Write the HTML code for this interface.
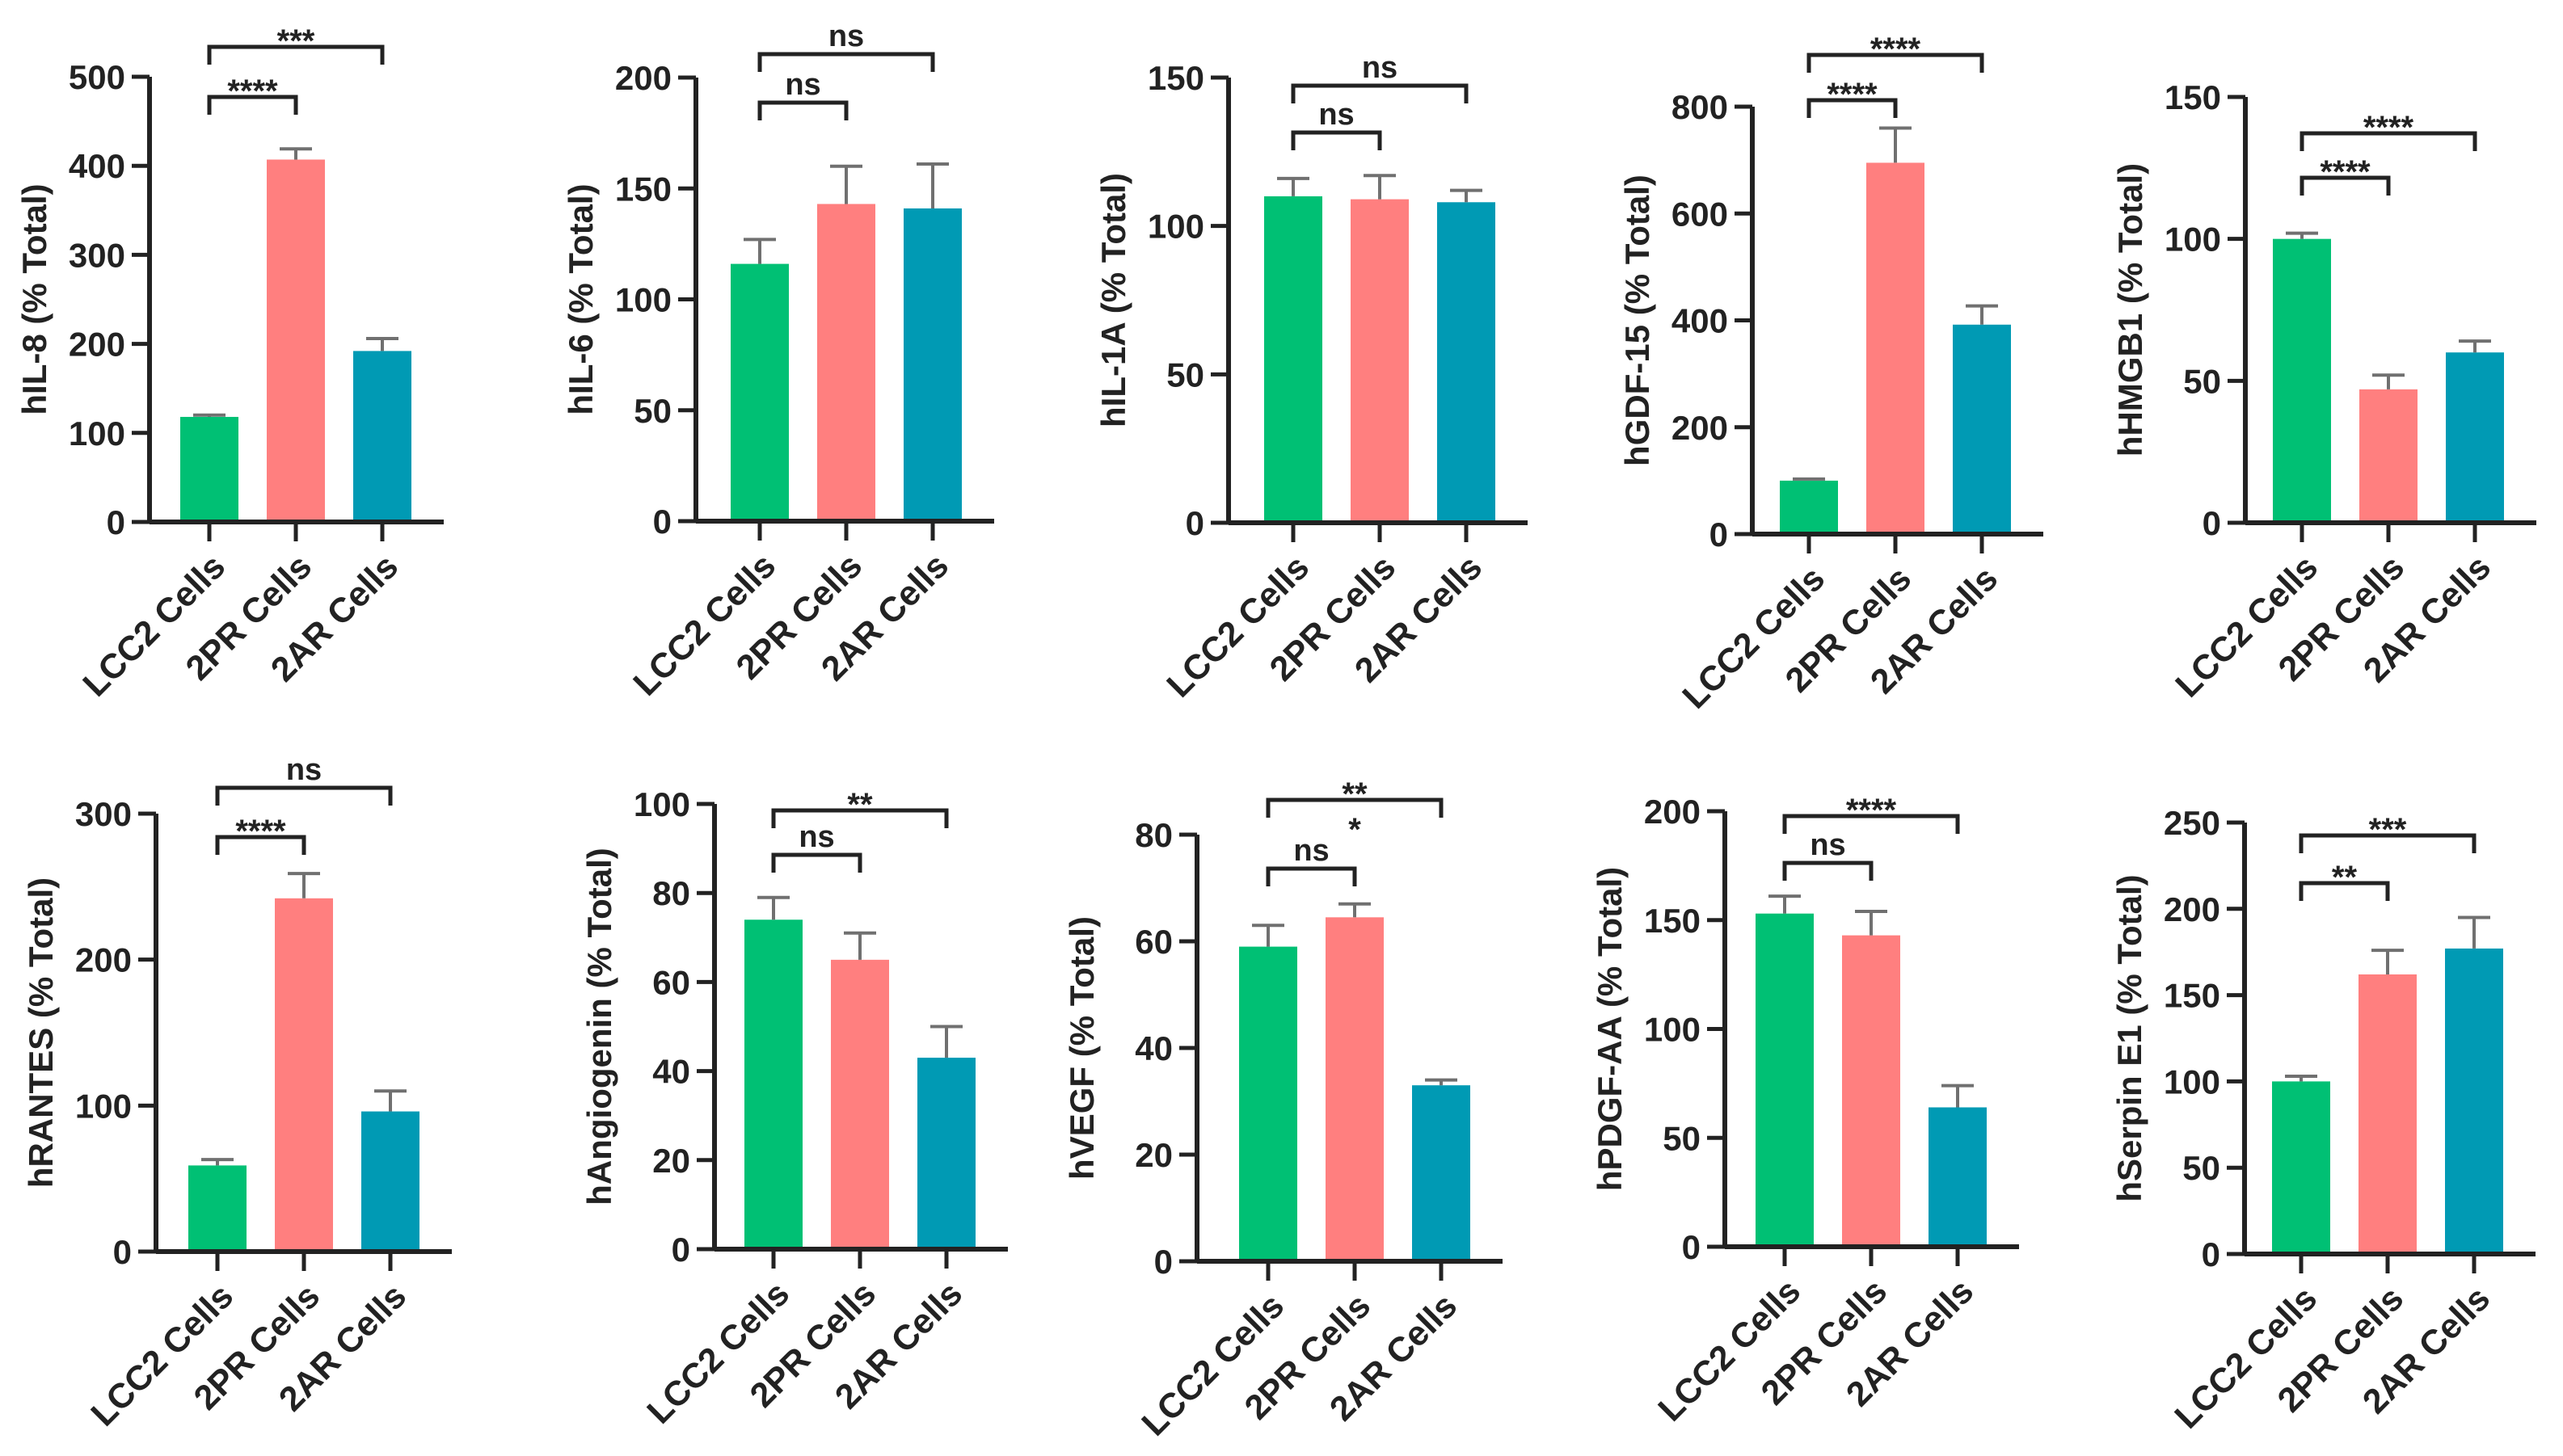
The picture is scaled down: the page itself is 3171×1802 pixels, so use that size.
<!DOCTYPE html>
<html><head><meta charset="utf-8"><style>
html,body{margin:0;padding:0;background:#fff;}
svg{display:block;font-family:"Liberation Sans",Arial,sans-serif;font-weight:bold;}
</style></head><body>
<svg id="fig" width="3171" height="1802" viewBox="0 0 3171 1802"></svg>
<script>
const categories = ["LCC2 Cells","2PR Cells","2AR Cells"];
const titles = ["hIL-8 (% Total)","hIL-6 (% Total)","hIL-1A (% Total)","hGDF-15 (% Total)","hHMGB1 (% Total)","hRANTES (% Total)","hAngiogenin (% Total)","hVEGF (% Total)","hPDGF-AA (% Total)","hSerpin E1 (% Total)"];
const means = [[118,407,192],[116,143,141],[110,109,108],[100,695,392],[100,47,60],[59,242,96],[74,65,43],[59,64.5,33],[153,143,64],[100,162,177]];
const errs = [[2,12,14],[11,17,20],[6,8,4],[3,65,35],[2,5,4],[4,17,14],[5,6,7],[4,2.5,1],[8,11,10],[3,14,18]];
const yMax = [500,200,150,800,150,300,100,80,200,250];
const yStep = [100,50,50,200,50,100,20,20,50,50];
const sigInner = ["****","ns","ns","****","****","****","ns","ns","ns","**"];
const sigOuter = ["***","ns","ns","****","****","ns","**","**","****","***"];
const sigExtra = ["","","","","","","","*","",""];
// layout: axis x, top y, bottom y, first bar offset, inner bracket y, outer bracket y
const layout = [
 [185,95,646,74,120,58],[861,96,645,79,127,67],[1520,96,647,80,164,106],[2168,132,661,70,124,68],[2778,120,647,70,220,165],
 [193,1007,1549,76,1036,975],[884,995,1546,73,1058,1003],[1481,1033,1561,88,1075,990],[2134,1004,1543,74,1068,1010],[2777,1018,1552,70,1093,1034]];
const colors=["#00c074","#ff7f7f","#009ab4"];
const NS="http://www.w3.org/2000/svg";
const svg=document.getElementById('fig');
function mk(tag,attrs,parent,text){const e=document.createElementNS(NS,tag);for(const k in attrs)e.setAttribute(k,attrs[k]);if(text!==undefined)e.textContent=text;parent.appendChild(e);return e;}
const SP=107, BW=72;
layout.forEach((L,p)=>{
  const [ax,top,bot,off,yi,yo]=L;
  const g=mk('g',{},svg);
  
  
  const y=v=>bot-(v/yMax[p])*(bot-top);
  const x=i=>ax+off+i*SP;
  const xend=x(2)+BW/2+40;
  means[p].forEach((m,i)=>{
    const r=mk('rect',{x:x(i)-BW/2,y:y(m),width:BW,height:bot-y(m),fill:colors[i]},g);
    
    
    const et=y(m+errs[p][i]);
    const eb=mk('path',{d:`M${x(i)} ${y(m)} V${et} M${x(i)-20} ${et} H${x(i)+20}`,stroke:'#707070','stroke-width':4,fill:'none'},g);
    
    
  });
  const axis=mk('path',{d:`M${ax} ${top} V${bot} M${ax} ${bot} H${xend}`,stroke:'#222','stroke-width':6,fill:'none'},g);
  
  
  for(let v=0;v<=yMax[p];v+=yStep[p]){
    mk('line',{x1:ax-22,x2:ax,y1:y(v),y2:y(v),stroke:'#222','stroke-width':5},g);
    const t=mk('text',{x:ax-30,y:y(v)+15,'text-anchor':'end','font-size':42,fill:'#222'},g,String(v));
    
    
  }
  categories.forEach((c,i)=>{
    mk('line',{x1:x(i),x2:x(i),y1:bot,y2:bot+24,stroke:'#222','stroke-width':5},g);
    const tx=x(i)+22, ty=bot+58;
    const t=mk('text',{x:tx,y:ty,'text-anchor':'end','font-size':43,fill:'#222',transform:`rotate(-45 ${tx} ${ty})`},g,c);
    
    
  });
  const cy=(top+bot)/2, tx=ax-128;
  const yt=mk('text',{x:tx,y:cy,'text-anchor':'middle','font-size':42,fill:'#222',transform:`rotate(-90 ${tx} ${cy})`},g,titles[p]);
  
  
  [[yi,x(0),x(1),sigInner[p]],[yo,x(0),x(2),sigOuter[p]]].forEach(([by,x1,x2,s])=>{
    const b=mk('path',{d:`M${x1} ${by+22} V${by} H${x2} V${by+22}`,stroke:'#222','stroke-width':5,fill:'none'},g);
    
    
    const st=mk('text',{x:(x1+x2)/2,y:by-(s==='ns'?10:-6),'text-anchor':'middle','font-size':s==='ns'?38:40,fill:'#222'},g,s);
    
    
  });
  if(sigExtra[p]){
    const e=mk('text',{x:(x(0)+x(2))/2,y:yo+50,'text-anchor':'middle','font-size':40,fill:'#222'},g,sigExtra[p]);
    
    
  }
});
</script>
</body></html>
